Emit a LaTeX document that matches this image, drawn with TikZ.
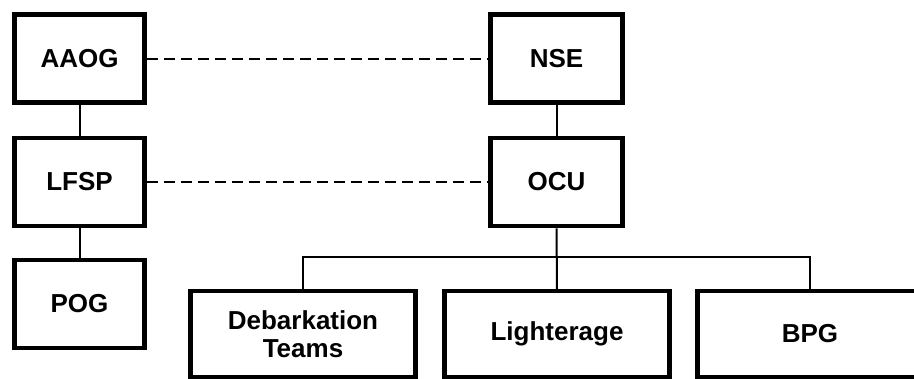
\documentclass[tikz,border=0pt]{standalone}
\usepackage{fontspec}
\setmainfont{Liberation Sans}
\usepackage{tikz}
\usetikzlibrary{positioning}

\begin{document}
\begin{tikzpicture}[x=1pt,y=-1pt,
  unitbox/.style={rectangle,draw=black,line width=4.5pt,fill=white,minimum width=130pt,minimum height=88pt,align=center,inner sep=0pt,font=\bfseries\fontsize{26}{28}\selectfont},
  teambox/.style={unitbox,minimum width=225pt,minimum height=86pt},
  link/.style={draw=black,line width=2pt},
  peer/.style={link,dash pattern=on 11pt off 6pt}]
\useasboundingbox (0,0) rectangle (914,378);
\clip (0,0) rectangle (914,378);
% left column
\node at (79.5,58.5)[unitbox](aaog){AAOG};
\node at (79.5,182)[unitbox](lfsp){LFSP};
\node at (79.5,304)[unitbox](pog){POG};
% right column
\node at (556.5,58.5)[unitbox,minimum width=132pt](nse){NSE};
\node at (556.5,182)[unitbox,minimum width=132pt](ocu){OCU};
% teams
\node at (303,334)[teambox](deb){Debarkation\\Teams};
\node at (557,334)[teambox](lig){\raisebox{2pt}{Lighterage}};
\node at (810,334)[teambox](bpg){BPG};
\coordinate (bus) at (557,257);
% links
\draw[link] (aaog) -- (lfsp);
\draw[link] (lfsp) -- (pog);
\draw[link] (nse) -- (ocu);
\draw[peer] (aaog) -- (nse);
\draw[peer] (lfsp) -- (ocu);
\draw[link] (ocu) -- (lig);
\draw[link] (deb.north) |- (bus) -| (bpg.north);
\end{tikzpicture}
\end{document}
